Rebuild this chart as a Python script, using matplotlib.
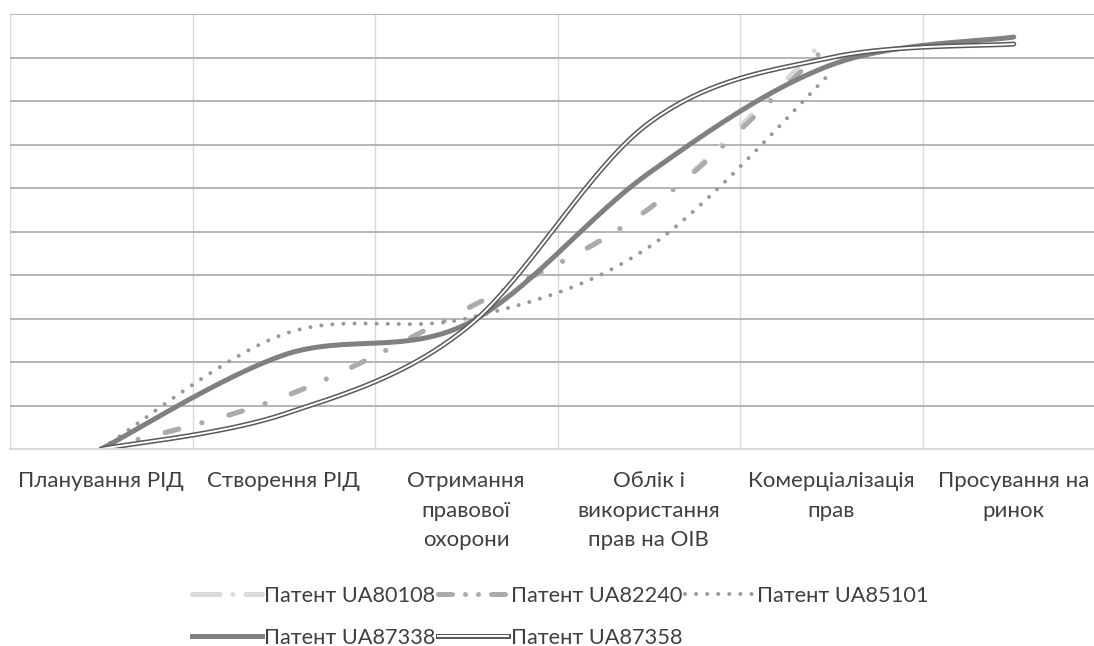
import numpy as np
import matplotlib
matplotlib.use("Agg")
import matplotlib.pyplot as plt
from matplotlib.lines import Line2D

plt.rcParams['font.family'] = ['Lato', 'DejaVu Sans']

stages = ['Планування РІД', 'Створення РІД', 'Отримання\nправової\nохорони',
          'Облік і\nвикористання\nправ на ОІВ', 'Комерціалізація\nправ',
          'Просування на\nринок']

ua80108 = [0, 1.2, 3.22, 5.52, 9.54]
ua82240 = [0, 1.2, 3.22, 5.52, 9.35]
ua85101 = [0, 2.64, 3.0, 4.64, 8.66]
ua87338 = [0, 2.16, 2.87, 6.34, 8.83, 9.47]
ua87358 = [0, 0.8, 2.78, 7.49, 9.0, 9.31]


def smooth(vals, n=40):
    # Excel-style smoothed line (Catmull-Rom as cubic Bezier)
    x = np.arange(len(vals), dtype=float)
    p = np.column_stack([x, np.asarray(vals, dtype=float)])
    p = np.vstack([p[0], p, p[-1]])
    t = np.linspace(0, 1, n)[:, None]
    out = []
    for i in range(1, len(p) - 2):
        a, b = p[i], p[i + 1]
        c1 = a + (p[i + 1] - p[i - 1]) / 6
        c2 = b - (p[i + 2] - p[i]) / 6
        seg = ((1 - t) ** 3) * a + 3 * ((1 - t) ** 2) * t * c1 + 3 * (1 - t) * t ** 2 * c2 + t ** 3 * b
        out.append(seg if i == 1 else seg[1:])
    s = np.vstack(out)
    return s[:, 0], s[:, 1]


fig = plt.figure(figsize=(10.94, 6.46), dpi=100)
ax = fig.add_axes([10 / 1094, 1 - 449 / 646, 1095 / 1094, 435 / 646])

lw = 3.6
dash_82240 = (0, (2.8, 4.8, 0.001, 5.6))
dash_80108 = (0, (5.5, 2.6, 0.001, 2.6))

# UA80108 runs under UA82240 and only shows at the top end
sx, sy = smooth(ua80108)
ax.plot(sx, sy, color='#d9d9d9', lw=lw, dash_capstyle='round', linestyle=dash_82240)
sx, sy = smooth(ua82240)
ax.plot(sx, sy, color='#ababab', lw=lw, dash_capstyle='round', linestyle=dash_82240)
sx, sy = smooth(ua85101)
ax.plot(sx, sy, color='#999999', lw=2.9, dash_capstyle='round',
        linestyle=(0, (0.001, 2.75)))
sx, sy = smooth(ua87338)
ax.plot(sx, sy, color='#808080', lw=lw, solid_capstyle='round')
sx, sy = smooth(ua87358)
ax.plot(sx, sy, color='#595959', lw=lw, solid_capstyle='round')
ax.plot(sx, sy, color='white', lw=1.4, solid_capstyle='round')

ax.set_xlim(-0.5, len(stages) - 0.5)
ax.set_ylim(0, 10)
ax.set_yticks(np.arange(0, 11))
ax.set_yticklabels([])
ax.set_xticks(np.arange(len(stages)))
ax.set_xticklabels(stages, fontsize=16, color='#404040', linespacing=1.58, va='top')
ax.set_xticks(np.arange(len(stages) + 1) - 0.5, minor=True)
ax.tick_params(axis='both', which='both', length=0)
ax.tick_params(axis='x', pad=16)
ax.grid(axis='y', which='major', color='#b4b4b4', lw=1.4)
ax.grid(axis='x', which='minor', color='#d9d9d9', lw=1.0)
ax.set_axisbelow(True)
for side in ['top', 'right', 'left']:
    ax.spines[side].set_visible(False)
ax.spines['bottom'].set_color('#d9d9d9')
ax.spines['bottom'].set_linewidth(1.4)

h80108 = Line2D([], [], color='#d9d9d9', lw=lw, dash_capstyle='round', linestyle=dash_80108)
h82240 = Line2D([], [], color='#ababab', lw=lw, dash_capstyle='round',
                linestyle=(0, (2.8, 2.6, 0.001, 2.6, 0.001, 2.6)))
h85101 = Line2D([], [], color='#999999', lw=2.9, dash_capstyle='round',
                linestyle=(0, (0.001, 2.75)))
h87338 = Line2D([], [], color='#808080', lw=lw)
h87358 = (Line2D([], [], color='#595959', lw=lw), Line2D([], [], color='white', lw=1.4))

handles = [h80108, h87338, h82240, h87358, h85101]
labels = ['Патент UA80108', 'Патент UA87338', 'Патент UA82240',
          'Патент UA87358', 'Патент UA85101']
fig.legend(handles, labels, ncol=3, loc='center', bbox_to_anchor=(0.512, (646 - 617) / 646),
           frameon=False, fontsize=15.7, labelcolor='#404040', handlelength=3.2,
           handletextpad=0.12, columnspacing=0.12, labelspacing=1.02)

fig.savefig('out.png', dpi=100)
